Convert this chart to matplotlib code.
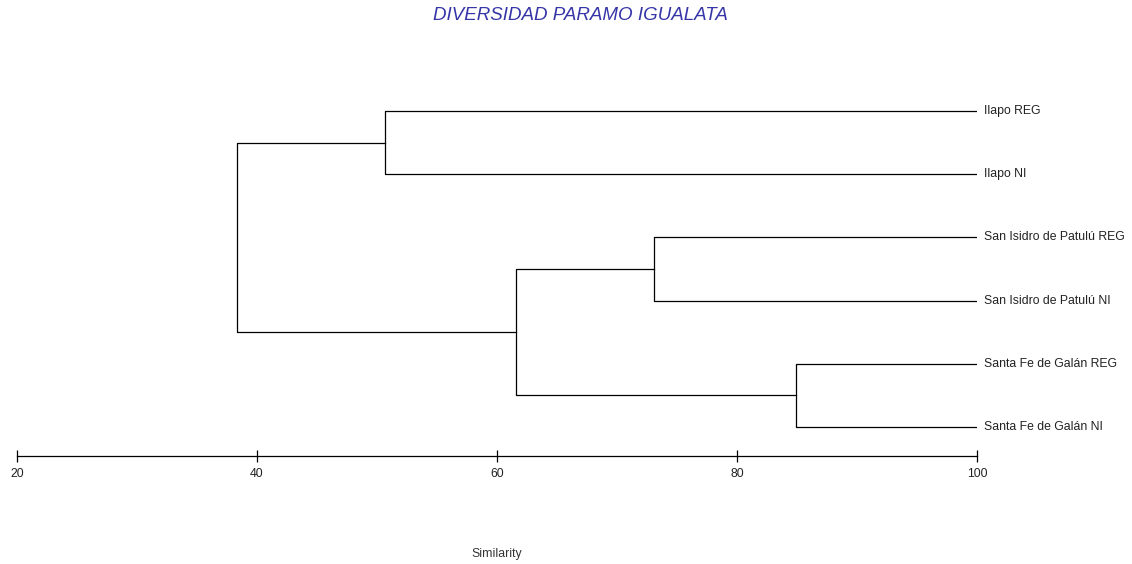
import matplotlib.pyplot as plt

plt.rcParams['font.family'] = ['Liberation Sans', 'DejaVu Sans']

# leaves, top to bottom
LEAVES = ["Ilapo REG", "Ilapo NI", "San Isidro de Patulú REG",
          "San Isidro de Patulú NI", "Santa Fe de Galán REG", "Santa Fe de Galán NI"]

# merges: (left node, right node, similarity); nodes 6+ are earlier merges
MERGES = [(0, 1, 50.7),
          (2, 3, 73.1),
          (4, 5, 84.9),
          (7, 8, 61.6),
          (6, 9, 38.3)]

X_TICKS = [20, 40, 60, 80, 100]

fig = plt.figure(figsize=(11.32, 5.64), dpi=100)
ax = fig.add_axes([17 / 1132, (564 - 456) / 564, 960 / 1132, 376 / 564])

# node -> (x, y)
pos = {i: (100, i) for i in range(len(LEAVES))}
for k, (a, b, sim) in enumerate(MERGES):
    xa, ya = pos[a]
    xb, yb = pos[b]
    ax.plot([xa, sim, sim, xb], [ya, ya, yb, yb], color="black", lw=0.9)
    pos[len(LEAVES) + k] = (sim, (ya + yb) / 2)

for i, name in enumerate(LEAVES):
    ax.text(100.6, i, name, fontsize=8.8, va="center", ha="left", color="#222222")

ax.set_xlim(20, 100)
ax.set_ylim(5 + 29 / 63, -31 / 63)
ax.set_xticks(X_TICKS)
ax.tick_params(axis="x", direction="inout", length=9, width=0.9, labelsize=8.8,
               pad=4, labelcolor="#222222")
ax.set_yticks([])
for s in ["left", "right", "top"]:
    ax.spines[s].set_visible(False)
ax.spines["bottom"].set_linewidth(0.9)

fig.text(580 / 1132, 1 - 15 / 564, "DIVERSIDAD PARAMO IGUALATA", fontsize=13.5,
         style="italic", color="#3535a8", ha="center", va="center")
fig.text(497 / 1132, 1 - 554 / 564, "Similarity", fontsize=8.8, ha="center",
         va="center", color="#333333")

fig.savefig("out.png", dpi=100)
